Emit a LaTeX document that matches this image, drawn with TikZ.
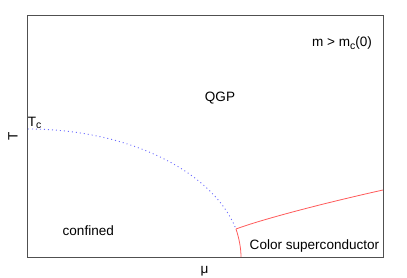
\documentclass[tikz,border=0pt]{standalone}
\usepackage{fontspec}
\setmainfont{Liberation Sans}
\newcommand\subscr[1]{\raisebox{-0.35ex}{\fontsize{10.5}{12}\selectfont #1}}
\definecolor{framegray}{RGB}{80,80,80}
\definecolor{lineblue}{RGB}{110,110,255}
\definecolor{linered}{RGB}{255,90,90}
\begin{document}
\begin{tikzpicture}[x=1bp,y=-1bp,
  lbl/.style={inner sep=0pt,font=\fontsize{13.6}{16}\selectfont},
  framebox/.style={draw=framegray,line width=1bp},
  blueline/.style={draw=lineblue,line width=0.9bp,dash pattern=on 1bp off 3bp},
  redline/.style={draw=linered,line width=0.8bp}]
\useasboundingbox (0,0) rectangle (407,278);
\draw[framebox] (27,15) rectangle (383,257);
\coordinate (tc) at (28,129);
\coordinate (tri) at (236,229);
\coordinate (mu0) at (241,257);
\coordinate (rend) at (383,190);
\draw[blueline] plot[domain=0:76.4,samples=60,smooth] ({28+214*sin(\x)},{260-131*cos(\x)});
\draw[redline] (tri) .. controls (239,238) and (241,248) .. (mu0);
\draw[redline] (tri) .. controls (260,220) and (320,204) .. (rend);
\node[lbl,anchor=base west] (mc) at (312,46.7) {m > m\subscr{c}(0)};
\node[lbl,anchor=base] (qgp) at (220,101.7) {QGP};
\node[lbl,anchor=base west] (tclab) at (27.7,126) {T\subscr{c}};
\node[lbl,anchor=base] (conf) at (88.3,235) {confined};
\node[lbl,anchor=base] (csc) at (314.5,249.3) {Color superconductor};
\node[lbl,rotate=90] (tax) at (13,136.7) {T};
\node[lbl,anchor=base] (muax) at (204.5,273) {μ};
\end{tikzpicture}
\end{document}
